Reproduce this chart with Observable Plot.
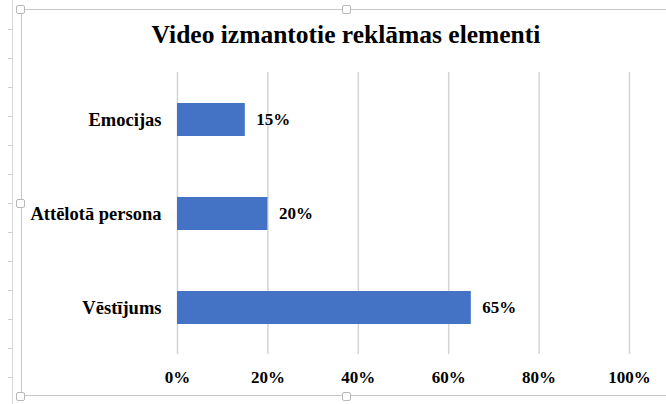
<!DOCTYPE html>
<html>
<head>
<meta charset="utf-8">
<script src="https://cdn.jsdelivr.net/npm/d3@7"></script>
<script src="https://cdn.jsdelivr.net/npm/@observablehq/plot@0.6"></script>
<style>
  html, body { margin: 0; padding: 0; background: #fff; }
  #wrap { position: relative; width: 666px; height: 404px; overflow: hidden; font-family: "Liberation Serif", "Times New Roman", serif; }
  #frame { position: absolute; left: 21px; top: 9px; width: 660px; height: 387px; border: 1px solid #c8c8c8; box-sizing: border-box; }
  #ruler { position: absolute; left: 12px; top: 0; width: 1px; height: 404px; background: #d8d8d8; }
  .rt { position: absolute; left: 8px; width: 5px; height: 1px; background: #d0d0d0; }
  .handle { position: absolute; width: 9px; height: 9px; background: #fff; border: 1px solid #b8b8b8; border-radius: 2px; box-sizing: border-box; }
  #title { position: absolute; left: 21px; width: 650px; top: 20px; text-align: center; font-weight: bold; font-size: 25.5px; color: #000; }
  #chart { position: absolute; left: 0; top: 0; }
</style>
</head>
<body>
<div id="wrap">
  <div id="ruler"></div>
  <div id="frame"></div>
  <div id="chart"></div>
  <div id="title">Video izmantotie reklāmas elementi</div>
</div>
<script>
const categories = ["Emocijas", "Attēlotā persona", "Vēstījums"];
const values = [15, 20, 65];
const xTicks = [0, 20, 40, 60, 80, 100];

const data = categories.map((c, i) => ({category: c, value: values[i]}));

const wrap = document.getElementById("wrap");
for (let y = 29; y < 404; y += 29) {
  const t = document.createElement("div"); t.className = "rt"; t.style.top = y + "px"; wrap.appendChild(t);
}
[[16, 5], [342, 5], [16, 199], [342, 392], [16, 392]].forEach(([x, y]) => {
  const h = document.createElement("div"); h.className = "handle"; h.style.left = x + "px"; h.style.top = y + "px"; wrap.appendChild(h);
});

const chart = Plot.plot({
  width: 666,
  height: 404,
  marginTop: 72,
  marginBottom: 50,
  marginLeft: 177,
  marginRight: 37,
  style: {background: "transparent", fontFamily: "'Liberation Serif', serif", fontSize: "17px", fontWeight: "bold", color: "#000"},
  x: {domain: [0, 100]},
  y: {domain: categories, paddingInner: 0.651, paddingOuter: 0.318},
  marks: [
    Plot.ruleX(xTicks, {stroke: "#d4d4d4", strokeWidth: 1.5}),
    Plot.barX(data, {y: "category", x: "value", fill: "#4472C4"}),
    Plot.text(data, {y: "category", x: "value", text: d => d.value + "%", textAnchor: "start", dx: 11, fill: "#000", fontSize: 17, fontWeight: "bold"}),
    Plot.axisX(xTicks, {tickSize: 0, tickPadding: 16, tickFormat: d => d + "%", label: null, fontSize: 17, fontWeight: "bold"}),
    Plot.axisY({tickSize: 0, tickPadding: 16, label: null, fontSize: 18.5, fontWeight: "bold"})
  ]
});
document.getElementById("chart").appendChild(chart);
</script>
</body>
</html>
